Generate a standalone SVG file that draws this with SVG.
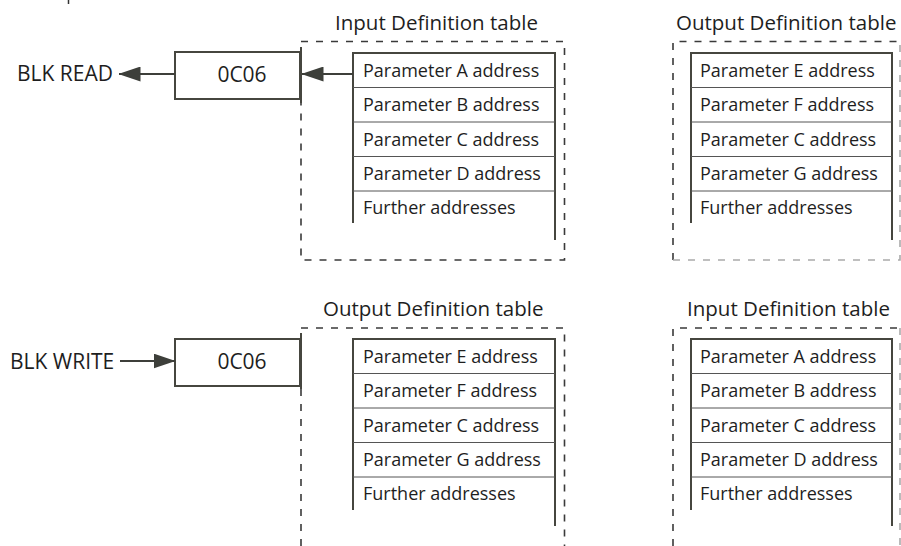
<svg xmlns="http://www.w3.org/2000/svg" width="901" height="546" viewBox="0 0 901 546">
<defs>
<style>
text{font-family:"Open Sans","Noto Sans","Liberation Sans",sans-serif;fill:#1e1e1e;}
.t{font-size:18px;}
.ttl{font-size:20.5px;}
.lbl{font-size:21px;}
.dash{fill:none;stroke:#3a3a3a;stroke-width:1.6;stroke-dasharray:7 8;}
.thick{fill:none;stroke:#46463f;stroke-width:2;}
.sep{stroke:#555;stroke-width:1;}
.box{fill:#fff;stroke:#46463f;stroke-width:2;}
.conn{stroke:#3d3f3a;stroke-width:2;fill:none;}
</style>
<marker id="ah2" markerWidth="22" markerHeight="15" refX="21.5" refY="7.5" orient="auto" markerUnits="userSpaceOnUse" viewBox="0 0 22 15">
<path d="M0,0 L22,7.5 L0,15 Z" fill="#3d3f3a"/>
</marker>
</defs>
<rect width="901" height="546" fill="#fff"/>
<line x1="68.5" y1="0" x2="68.5" y2="4" stroke="#333" stroke-width="1.5"/>

<g id="read-label"><text class="lbl" x="17" y="81">BLK READ</text></g>
<g id="read-box">
<rect class="box" x="175" y="52" width="125" height="47"/>
<line class="thick" x1="301" y1="47" x2="301" y2="103"/>
<text class="lbl" x="242" y="82" text-anchor="middle">0C06</text>
</g>

<g id="input-table-1">
<text class="ttl" x="335" y="30">Input Definition table</text>
<path class="dash" d="M301,41.5 H564.5 V260 H301 V103"/>
<line class="thick" x1="353" y1="53" x2="555" y2="53"/>
<line class="thick" x1="353" y1="52" x2="353" y2="223"/>
<line class="thick" x1="555" y1="52" x2="555" y2="240"/>
<line class="sep" x1="353" y1="87.5" x2="555" y2="87.5"/>
<line class="sep" x1="353" y1="122" x2="555" y2="122"/>
<line class="sep" x1="353" y1="156.5" x2="555" y2="156.5"/>
<line class="sep" x1="353" y1="191" x2="555" y2="191"/>
<text class="t" x="363" y="77">Parameter A address</text>
<text class="t" x="363" y="111">Parameter B address</text>
<text class="t" x="363" y="146">Parameter C address</text>
<text class="t" x="363" y="180">Parameter D address</text>
<text class="t" x="363" y="214">Further addresses</text>
</g>

<g id="output-table-1">
<text class="ttl" x="676" y="30">Output Definition table</text>
<path class="dash" d="M673,260 V41.5 H901"/>
<path class="dash" d="M673,260 H900 V41.5" style="stroke:#aaa"/>
<line class="thick" x1="691" y1="53" x2="892" y2="53"/>
<line class="thick" x1="691" y1="52" x2="691" y2="223"/>
<line class="thick" x1="892" y1="52" x2="892" y2="240"/>
<line class="sep" x1="691" y1="87.5" x2="892" y2="87.5"/>
<line class="sep" x1="691" y1="122" x2="892" y2="122"/>
<line class="sep" x1="691" y1="156.5" x2="892" y2="156.5"/>
<line class="sep" x1="691" y1="191" x2="892" y2="191"/>
<text class="t" x="700" y="77">Parameter E address</text>
<text class="t" x="700" y="111">Parameter F address</text>
<text class="t" x="700" y="146">Parameter C address</text>
<text class="t" x="700" y="180">Parameter G address</text>
<text class="t" x="700" y="214">Further addresses</text>
</g>

<g id="write-label"><text class="lbl" x="10" y="369">BLK WRITE</text></g>
<g id="write-box">
<rect class="box" x="175" y="339" width="125" height="47"/>
<line class="thick" x1="301" y1="333" x2="301" y2="389"/>
<text class="lbl" x="242" y="369" text-anchor="middle">0C06</text>
</g>

<g id="output-table-2">
<text class="ttl" x="323" y="316">Output Definition table</text>
<path class="dash" d="M301,328 H564.5 V546"/>
<path class="dash" d="M301,389 V546"/>
<line class="thick" x1="353" y1="339" x2="555" y2="339"/>
<line class="thick" x1="353" y1="338" x2="353" y2="510"/>
<line class="thick" x1="555" y1="338" x2="555" y2="526"/>
<line class="sep" x1="353" y1="373.5" x2="555" y2="373.5"/>
<line class="sep" x1="353" y1="408" x2="555" y2="408"/>
<line class="sep" x1="353" y1="442.5" x2="555" y2="442.5"/>
<line class="sep" x1="353" y1="477" x2="555" y2="477"/>
<text class="t" x="363" y="363">Parameter E address</text>
<text class="t" x="363" y="397">Parameter F address</text>
<text class="t" x="363" y="432">Parameter C address</text>
<text class="t" x="363" y="466">Parameter G address</text>
<text class="t" x="363" y="500">Further addresses</text>
</g>

<g id="input-table-2">
<text class="ttl" x="687" y="316">Input Definition table</text>
<path class="dash" d="M673,546 V328 H901"/>
<path class="dash" d="M900,328 V546" style="stroke:#aaa"/>
<line class="thick" x1="691" y1="339" x2="892" y2="339"/>
<line class="thick" x1="691" y1="338" x2="691" y2="510"/>
<line class="thick" x1="892" y1="338" x2="892" y2="526"/>
<line class="sep" x1="691" y1="373.5" x2="892" y2="373.5"/>
<line class="sep" x1="691" y1="408" x2="892" y2="408"/>
<line class="sep" x1="691" y1="442.5" x2="892" y2="442.5"/>
<line class="sep" x1="691" y1="477" x2="892" y2="477"/>
<text class="t" x="700" y="363">Parameter A address</text>
<text class="t" x="700" y="397">Parameter B address</text>
<text class="t" x="700" y="432">Parameter C address</text>
<text class="t" x="700" y="466">Parameter D address</text>
<text class="t" x="700" y="500">Further addresses</text>
</g>

<g id="connectors">
<line class="conn" x1="175" y1="74" x2="119" y2="74" marker-end="url(#ah2)"/>
<line class="conn" x1="353" y1="74" x2="302" y2="74" marker-end="url(#ah2)"/>
<line class="conn" x1="120" y1="361" x2="175" y2="361" marker-end="url(#ah2)"/>
</g>
</svg>
